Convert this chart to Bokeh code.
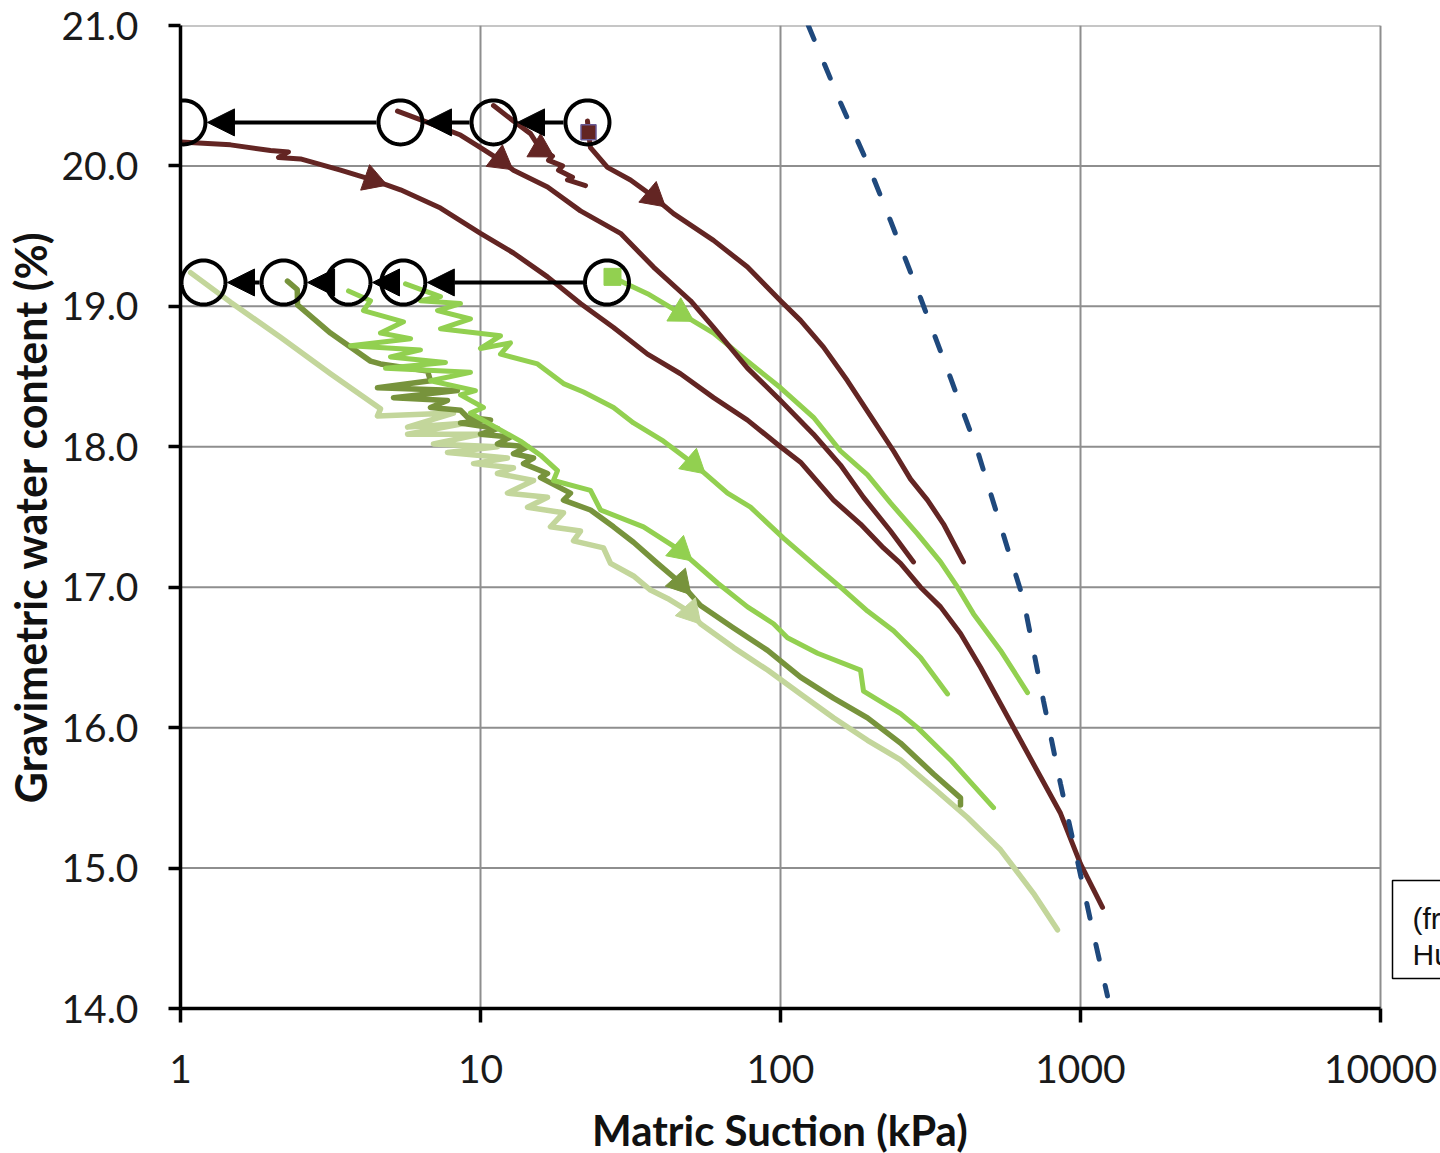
import math
import numpy as np
from bokeh.plotting import figure
from bokeh.models import (Range1d, FixedTicker, NumeralTickFormatter, Arrow, NormalHead,
                          ColumnDataSource, PolyAnnotation)
from bokeh.core.properties import value
from bokeh.embed import file_html
from bokeh.resources import INLINE

# ---------------- data ----------------
x_ticks = [1, 10, 100, 1000, 10000]
y_ticks = [14, 15, 16, 17, 18, 19, 20, 21]

# drying curves (dark red)
brown_a_s = [1.00, 1.468, 1.995, 2.291, 2.122, 2.512, 3.415, 4.365, 5.412, 7.356, 10.0, 12.88, 16.73,
             21.54, 27.76, 36.04, 46.42, 59.81, 77.62, 100.0, 116.6, 150.2, 184.8, 220.4, 251.2, 292.9,
             341.5, 398.1, 464.2, 541.2, 631.0, 735.6, 857.7, 1000.0, 1184.0]
brown_a_w = [20.17, 20.15, 20.11, 20.10, 20.06, 20.05, 19.97, 19.90, 19.83, 19.70, 19.52, 19.38, 19.21,
             19.02, 18.85, 18.66, 18.52, 18.35, 18.19, 18.00, 17.89, 17.62, 17.45, 17.28, 17.17, 17.00,
             16.86, 16.67, 16.43, 16.17, 15.91, 15.65, 15.39, 15.03, 14.72]

brown_b_s = [5.289, 6.659, 8.577, 10.0, 11.66, 12.88, 16.73, 21.54, 29.29, 37.73, 50.12, 59.81, 77.62,
             100.0, 128.8, 158.5, 189.1, 232.6, 277.5]
brown_b_w = [20.39, 20.31, 20.22, 20.13, 20.04, 19.97, 19.85, 19.68, 19.52, 19.28, 19.04, 18.85, 18.56,
             18.33, 18.09, 17.87, 17.64, 17.40, 17.18]

brown_c_s = [11.05, 12.88, 14.68, 15.85, 17.38, 16.86, 18.77, 18.20, 20.26, 19.50, 22.39]
brown_c_w = [20.43, 20.32, 20.23, 20.12, 20.07, 20.04, 20.00, 19.97, 19.92, 19.90, 19.86]

brown_d_s = [22.73, 22.91, 23.26, 26.50, 31.62, 37.73, 44.00, 59.81, 77.62, 100.0, 116.6, 139.1, 167.2,
             199.5, 238.1, 271.3, 309.0, 349.5, 407.4]
brown_d_w = [20.32, 20.24, 20.13, 19.99, 19.90, 19.78, 19.66, 19.47, 19.28, 19.04, 18.90, 18.71, 18.47,
             18.22, 17.97, 17.77, 17.62, 17.45, 17.18]

# wetting / second drying curves (greens)
green_1_s = [27.54, 29.97, 36.04, 46.42, 59.81, 77.62, 100.0, 128.8, 158.5, 195.0, 232.6, 286.2, 341.5,
             389.0, 440.0, 541.2, 665.8]
green_1_w = [19.21, 19.17, 19.09, 18.95, 18.81, 18.61, 18.42, 18.21, 17.97, 17.80, 17.60, 17.38, 17.18,
             17.00, 16.81, 16.55, 16.25]

green_2_s = [5.623, 7.356, 6.310, 8.577, 7.191, 9.261, 7.356, 11.66, 10.0, 12.59, 11.66, 15.49, 18.91,
             22.05, 27.76, 32.36, 40.74, 51.29, 66.59, 79.43, 102.3, 132.9, 158.5, 195.0, 238.1, 292.9,
             360.4]
green_2_w = [19.16, 19.07, 19.04, 19.02, 18.97, 18.91, 18.84, 18.79, 18.70, 18.74, 18.66, 18.59, 18.45,
             18.39, 18.28, 18.17, 18.04, 17.88, 17.67, 17.57, 17.35, 17.14, 17.00, 16.83, 16.69, 16.50,
             16.24]

green_3_s = [3.631, 4.299, 4.074, 5.538, 4.642, 5.848, 3.687, 6.310, 5.012, 7.643, 4.823, 9.261, 6.813,
             9.616, 8.577, 10.23, 9.261, 13.59, 15.85, 18.06, 17.51, 23.26, 25.12, 34.94, 46.42, 61.66,
             77.62, 94.77, 105.5, 132.9, 184.8, 189.1, 251.2, 286.2, 368.8, 512.9]
green_3_w = [19.11, 19.04, 18.97, 18.89, 18.81, 18.77, 18.72, 18.69, 18.64, 18.60, 18.56, 18.53, 18.47,
             18.40, 18.37, 18.28, 18.24, 18.04, 17.94, 17.83, 17.76, 17.69, 17.55, 17.43, 17.26, 17.03,
             16.86, 16.74, 16.64, 16.53, 16.41, 16.26, 16.10, 16.00, 15.77, 15.43]

olive_s = [2.273, 2.450, 2.455, 3.162, 4.299, 4.642, 6.659, 6.813, 4.535, 8.381, 5.129, 7.762,
           6.813, 8.577, 9.046, 10.80, 8.577, 11.39, 10.0, 12.59, 11.39, 14.35, 12.88, 15.03, 13.91,
           16.73, 15.85, 19.95, 18.91, 23.26, 27.76, 32.36, 38.90, 46.42, 54.12, 69.75, 90.57, 116.6,
           150.2, 195.0, 251.2, 323.6, 398.1, 398.1]
olive_w = [19.18, 19.12, 19.01, 18.81, 18.61, 18.59, 18.54, 18.47, 18.42, 18.40, 18.35, 18.33,
           18.28, 18.26, 18.21, 18.19, 18.17, 18.13, 18.09, 18.07, 18.02, 18.00, 17.95, 17.92, 17.88,
           17.81, 17.78, 17.67, 17.62, 17.55, 17.43, 17.32, 17.17, 17.03, 16.87, 16.71, 16.55, 16.36,
           16.21, 16.07, 15.89, 15.67, 15.50, 15.45]

pale_s = [1.080, 1.468, 2.154, 3.162, 4.642, 4.535, 8.128, 5.715, 9.046, 5.715, 10.0, 6.970, 11.39,
          7.762, 12.30, 9.478, 12.88, 11.39, 15.03, 12.30, 16.73, 14.35, 18.91, 17.11, 21.54, 20.42,
          25.70, 27.13, 32.36, 36.87, 42.02, 50.12, 54.12, 69.75, 90.57, 116.6, 150.2, 195.0, 251.2,
          323.6, 420.0, 541.2, 697.0, 838.0]
pale_w = [19.24, 19.03, 18.78, 18.52, 18.27, 18.22, 18.24, 18.14, 18.17, 18.09, 18.09, 18.02, 18.00,
          17.96, 17.92, 17.88, 17.85, 17.81, 17.76, 17.67, 17.64, 17.57, 17.53, 17.43, 17.40, 17.33,
          17.28, 17.17, 17.08, 16.98, 16.92, 16.82, 16.74, 16.57, 16.41, 16.24, 16.07, 15.91, 15.77,
          15.57, 15.36, 15.13, 14.82, 14.56]

# dashed reference line
ref_s = [123.8, 158.5, 195.0, 232.6, 292.9, 368.8, 453.7, 541.2, 645.7, 752.9, 857.7, 977.2, 1105.0, 1230.0]
ref_w = [21.00, 20.45, 20.02, 19.61, 19.06, 18.49, 17.97, 17.44, 16.91, 16.19, 15.60, 15.05, 14.53, 14.09]

# circled start points and the shifts between them
circ_top_s = [1.023, 5.41, 11.05, 22.73]
circ_top_w = 20.31
circ_bot_s = [1.193, 2.206, 3.631, 5.53, 26.4]
circ_bot_w = 19.17

note_lines = ["(from", "Hu et al.)"]

# ---------------- styling / layout ----------------
BROWN = "#632523"
GREEN = "#92D050"
OLIVE = "#77933C"
PALE = "#C3D69B"
BLUE = "#1F497D"

X_LOG_MAX = 4.2                       # frame runs a little past 10000 to hold the note box
FRAME_W, FRAME_H = 1260, 983
PPD = FRAME_W / X_LOG_MAX             # px per decade (300)
PPU = FRAME_H / 7.0                   # px per % water content


def sx(px):   # frame-relative pixel -> suction (layout helper for the note box)
    return 10 ** (px / PPD)


def wy(py):   # frame-relative pixel from top -> water content
    return 21 - py / PPU


p = figure(frame_width=FRAME_W, frame_height=FRAME_H,
           min_border_left=180, min_border_right=0, min_border_top=25, min_border_bottom=145,
           x_axis_type="log", x_range=Range1d(1, 10 ** X_LOG_MAX), y_range=Range1d(14, 21),
           output_backend="svg", toolbar_location=None)
p.outline_line_color = None
p.background_fill_color = "white"
p.border_fill_color = "white"
p.xgrid.visible = False
p.ygrid.visible = False

p.xaxis.ticker = FixedTicker(ticks=x_ticks)
p.yaxis.ticker = FixedTicker(ticks=y_ticks)
p.xaxis.formatter = NumeralTickFormatter(format="0")
p.yaxis.formatter = NumeralTickFormatter(format="0.0")
p.xaxis.bounds = (x_ticks[0], x_ticks[-1])

for ax in (p.xaxis, p.yaxis):
    ax.axis_line_color = "black"
    ax.axis_line_width = 3.5
    ax.major_tick_line_color = "black"
    ax.major_tick_line_width = 3.5
    ax.major_tick_in = 0
    ax.minor_tick_line_color = None
    ax.major_label_text_font = "Lato"
    ax.major_label_text_font_size = "39px"
    ax.major_label_text_color = "#1a1a1a"
    ax.axis_label_text_font = "Lato"
    ax.axis_label_text_font_style = "bold"
    ax.axis_label_text_color = "#111111"

p.xaxis.axis_label_text_font_size = "42px"
p.yaxis.axis_label_text_font_size = "43px"
p.xaxis.major_tick_out = 14
p.yaxis.major_tick_out = 12
p.xaxis.major_label_standoff = 32
p.yaxis.major_label_standoff = 30
# trailing no-break spaces re-centre the title under the 1..10000 span (frame is wider)
p.xaxis.axis_label = "Matric Suction (kPa)" + "\u00a0" * 6
p.yaxis.axis_label = "Gravimetric water content (%)"
p.xaxis.axis_label_standoff = 19
p.yaxis.axis_label_standoff = 2

# grid lines (limited to the 1..10000 decade span)
GRID = "#8e8e8e"
p.segment(x0=[x_ticks[0]] * len(y_ticks), x1=[x_ticks[-1]] * len(y_ticks), y0=y_ticks, y1=y_ticks,
          line_color=GRID, line_width=2)
p.segment(x0=x_ticks[1:], x1=x_ticks[1:], y0=[y_ticks[0]] * 4, y1=[y_ticks[-1]] * 4,
          line_color=GRID, line_width=2)

series = [
    (pale_s, pale_w, PALE, 5.5, 31),
    (olive_s, olive_w, OLIVE, 5.5, 33),
    (green_3_s, green_3_w, GREEN, 5, 24),
    (green_2_s, green_2_w, GREEN, 5, 17),
    (green_1_s, green_1_w, GREEN, 5, 3),
    (brown_a_s, brown_a_w, BROWN, 5, 7),
    (brown_b_s, brown_b_w, BROWN, 5, 4),
    (brown_c_s, brown_c_w, BROWN, 5, 3),
    (brown_d_s, brown_d_w, BROWN, 5, 5),
]

for s, w, c, lw, _ in series:
    p.line(s, w, line_color=c, line_width=lw, line_join="round", line_cap="round")

# start squares
p.scatter([green_1_s[0]], [green_1_w[0]], marker="square", size=17, fill_color=GREEN, line_color=GREEN)
p.scatter([brown_d_s[1]], [brown_d_w[1]], marker="square", size=15, fill_color=BROWN, line_color="#6a5a96",
          line_width=1.5)

# direction arrowheads along the curves
ax_, ay_, aang, acol = [], [], [], []
for s, w, c, lw, i in series:
    dx = (math.log10(s[i + 1]) - math.log10(s[i])) * PPD
    dy = (w[i + 1] - w[i]) * PPU
    ax_.append(s[i]); ay_.append(w[i]); aang.append(math.atan2(-dx, dy)); acol.append(c)
p.scatter(x=ax_, y=ay_, angle=aang, marker="triangle", size=27, fill_color=acol, line_color=acol)

# dashed line
p.line(ref_s, ref_w, line_color=BLUE, line_width=5, line_dash="15 27", line_cap="round")

# circles and shift arrows
R = 22.0
theta = np.linspace(0, 2 * np.pi, 73)
TIP = 24.0
for row_s, row_w in ((circ_top_s, circ_top_w), (circ_bot_s, circ_bot_w)):
    for cs in row_s:
        xs = list(cs * 10 ** (R * np.cos(theta) / PPD))
        ys = list(row_w + R * np.sin(theta) / PPU)
        p.add_layout(PolyAnnotation(xs=xs, ys=ys, xs_units="data", ys_units="data",
                                    fill_color=None, fill_alpha=0, line_color="black",
                                    line_alpha=1.0, line_width=4))
    f = 10 ** (TIP / PPD)
    src = ColumnDataSource(dict(
        x0=[row_s[k + 1] / f for k in range(len(row_s) - 1)],
        x1=[row_s[k] * f for k in range(len(row_s) - 1)],
        y0=[row_w] * (len(row_s) - 1),
        y1=[row_w] * (len(row_s) - 1)))
    p.add_layout(Arrow(source=src, x_start="x0", y_start="y0", x_end="x1", y_end="y1",
                       line_color="black", line_width=4,
                       end=NormalHead(size=27, fill_color="black", line_color="black", line_width=1)))

# note box, cut by the right edge as in the original
p.quad(left=[sx(1212)], right=[sx(1300)], top=[wy(855)], bottom=[wy(953)],
       fill_color="white", line_color="black", line_width=1.5)
p.text(x=[sx(1232)] * 2, y=[wy(893), wy(929)], text=note_lines,
       text_font=value("Liberation Sans"), text_font_size=value("30px"), text_color="#111111",
       text_align="left", text_baseline="alphabetic")

open("out.html", "w").write(file_html(p, INLINE))
